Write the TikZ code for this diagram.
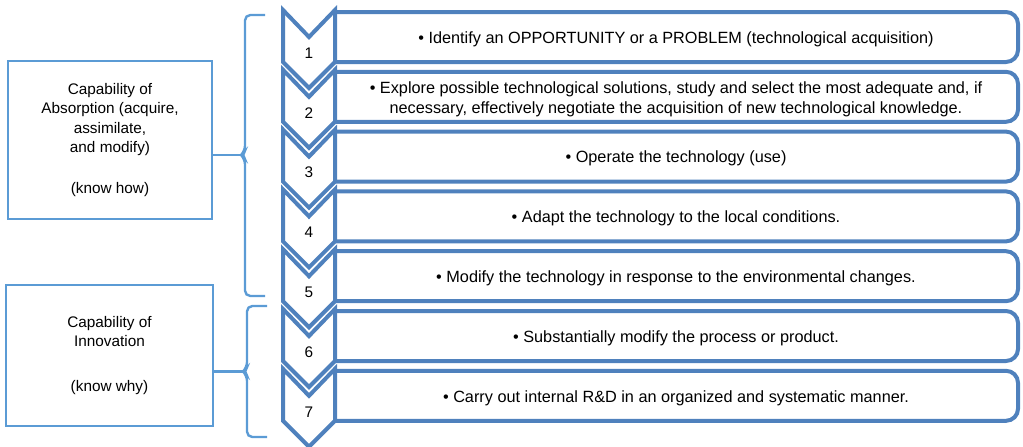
\documentclass[tikz,border=0pt]{standalone}
\usepackage{fontspec}
\setmainfont{Liberation Sans}
\usepackage{tikz}

\definecolor{chevblue}{RGB}{79,129,189}
\definecolor{braceblue}{RGB}{91,155,213}

\begin{document}
\begin{tikzpicture}[x=0.75pt, y=-0.75pt, line join=miter]
    \tikzstyle{chevron}=[draw=chevblue, line width=3pt, fill=white]
    \tikzstyle{item box}=[draw=chevblue, line width=3pt, rounded corners=9]
    \tikzstyle{item text}=[align=center, font=\fontsize{12.2}{15}\selectfont]
    \tikzstyle{num}=[font=\fontsize{11.5}{14.6}\selectfont, inner sep=0pt];
    \tikzstyle{capability}=[draw=braceblue, line width=1.5pt, align=center, inner sep=0pt, font=\fontsize{11.5}{14.6}\selectfont];
    \tikzstyle{brace}=[draw=braceblue, line width=1.8pt, rounded corners=4]

    \useasboundingbox (0,0) rectangle (1023,446);

    % Draw the step boxes (left side is the chevron edge)
    \foreach \name [evaluate=\name as \y using 10+59.8*(\name-1)] in {1,...,7}
        \draw[item box] (335,\y+2) -| (1018,\y+52) -- (335,\y+52);

    % Draw the chevrons with their numbers
    \foreach \name [evaluate=\name as \y using 10+59.8*(\name-1)] in {1,...,7} {
        \draw[chevron] (283,\y) -- (309,\y+27) -- (335,\y) -- (335,\y+52)
            -- (309,\y+78) -- (283,\y+52) -- cycle;
        \node[num] (N-\name) at (309,\y+43) {\name};
    }

    % Texts of the steps
    \foreach \name / \txt in {
        1/{\textbullet{} Identify an OPPORTUNITY or a PROBLEM (technological acquisition)},
        2/{\textbullet{} Explore possible technological solutions, study and select the most adequate and, if\\necessary, effectively negotiate the acquisition of new technological knowledge.},
        3/{\textbullet{} Operate the technology (use)},
        4/{\textbullet{} Adapt the technology to the local conditions.},
        5/{\textbullet{} Modify the technology in response to the environmental changes.},
        6/{\textbullet{} Substantially modify the process or product.},
        7/{\textbullet{} Carry out internal R\&D in an organized and systematic manner.}}
        \node[item text] (T-\name) at (676,{10+59.8*(\name-1)+29}) {\txt};

    % Capability boxes
    \node[capability, minimum width=153pt, minimum height=118.5pt] (A) at (110,140)
        {Capability of\\Absorption (acquire,\\assimilate,\\and modify)\\[16pt](know how)};
    \node[capability, minimum width=155pt, minimum height=106pt] (I) at (109.5,355.5)
        {Capability of\\Innovation\\[19.5pt](know why)};

    % Brackets and their tips
    \coordinate (tip-A) at (241,155);
    \coordinate (tip-I) at (243,371.5);
    \draw[brace] (265,15) -- (245,15) -- (245,151) -- (tip-A) -- (245,159) -- (245,296) -- (265,296);
    \draw[brace] (267,306) -- (247,306) -- (247,367.5) -- (tip-I) -- (247,375.5) -- (247,437) -- (267,437);

    % Connect the boxes with the brackets
    \draw[brace] (tip-A -| A.east) -- (tip-A);
    \draw[brace] (tip-I -| I.east) -- (tip-I);
\end{tikzpicture}
\end{document}
